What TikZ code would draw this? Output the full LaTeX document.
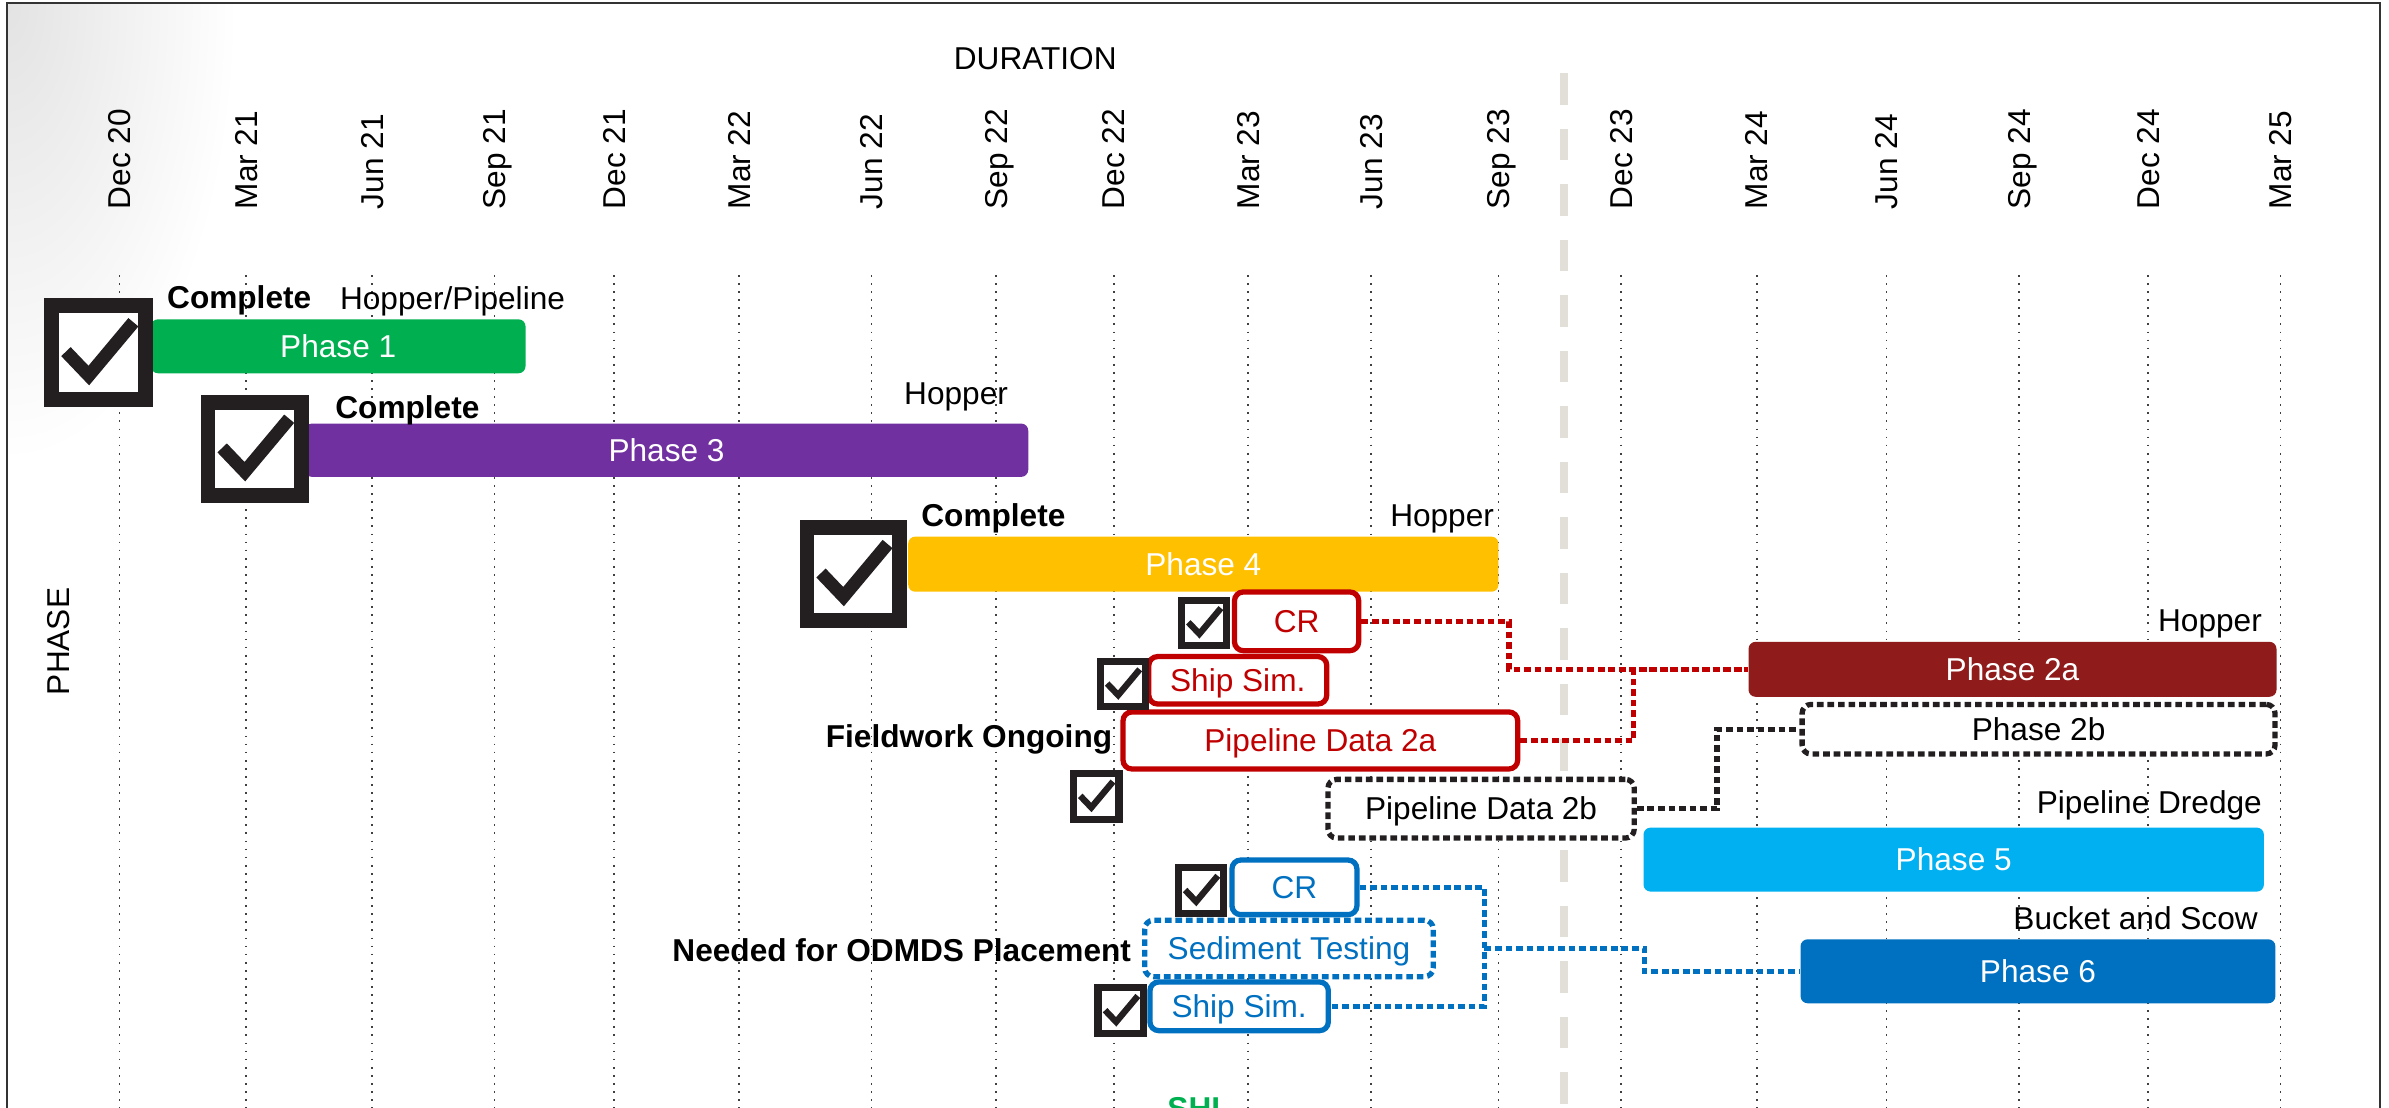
\documentclass[tikz,border=0pt]{standalone}
\usepackage{fontspec}
\setmainfont{Liberation Sans}
\usepackage{tikz}

\definecolor{phgreen}{HTML}{00B050}
\definecolor{phpurple}{HTML}{7030A0}
\definecolor{phyellow}{HTML}{FFC000}
\definecolor{phdarkred}{HTML}{8F1B1B}
\definecolor{phred}{HTML}{C00000}
\definecolor{phcyan}{HTML}{00B0F0}
\definecolor{phblue}{HTML}{0070C0}
\definecolor{chkblack}{HTML}{231F20}
\definecolor{sepgray}{HTML}{E2DFD8}

\def\pxu{0.4335pt}
\tikzset{
        txt/.style={font=\fontsize{9}{10.8}\selectfont, text height=6.4pt, text depth=0pt, inner sep=0pt},
        lbold/.style={txt, font=\fontsize{9}{10.8}\selectfont\bfseries},
        bar/.style 2 args={txt, text=white, rounded corners=2pt, minimum width={#1*\pxu}, minimum height={#2*\pxu}},
        obox/.style 2 args={txt, fill=white, line width=1.5pt, rounded corners=2.5pt, minimum width={#1*\pxu-1.5pt}, minimum height={#2*\pxu-1.5pt}},
        dbox/.style 2 args={obox={#1}{#2}, dash pattern=on 1.9pt off 1.1pt},
        conn/.style={line width=1.5pt, dash pattern=on 1.9pt off 1.1pt},
        griddot/.style={black!75, line width=0.5pt, dash pattern=on 0.5pt off 1.8pt},
        sepline/.style={sepgray, line width=2.1pt, dash pattern=on 9pt off 6.8pt},
        chk/.style={draw=chkblack, fill=white, inner sep=0pt, line width={0.135*#1*\pxu}, minimum size={0.865*#1*\pxu},
            path picture={\draw[chkblack, line width={0.12*#1*\pxu}, line cap=butt, line join=miter]
                ([shift={(-0.30*#1*\pxu,0.01*#1*\pxu)}]path picture bounding box.center) --
                ([shift={(-0.09*#1*\pxu,-0.21*#1*\pxu)}]path picture bounding box.center) --
                ([shift={(0.32*#1*\pxu,0.28*#1*\pxu)}]path picture bounding box.center);}}
    }

\begin{document}
\begin{tikzpicture}[x=0.015236cm,y=-0.015236cm]
\useasboundingbox (0,0) rectangle (1568,727);

% frame
\begin{scope}
\clip (5.5,3) rectangle (300,600);
\shade[inner color=black!11, outer color=white] (-144.5,-297) rectangle (155.5,303);
\end{scope}
\draw[black!80, line width=0.6pt] (4.4,740) -- (4.4,2.2) -- (1562,2.2) -- (1562,740);

% time axis
\foreach \x/\m [count=\i] in {78.5/Dec 20, 161.4/Mar 21, 244/Jun 21, 324.5/Sep 21, 403.2/Dec 21, 485.2/Mar 22,
    572/Jun 22, 653.9/Sep 22, 731/Dec 22, 819/Mar 23, 900/Jun 23, 983.6/Sep 23,
    1064/Dec 23, 1153/Mar 24, 1238.2/Jun 24, 1325/Sep 24, 1409.8/Dec 24, 1496.8/Mar 25}
{
    \draw[griddot] (\x,180.5) -- (\x,727);
    \draw (\x,137.8) node(MON\i)[txt,rotate=90,anchor=west]{\m};
}
\draw[sepline] (1026.5,48) -- (1026.5,727);

\draw (679.5,38) node(DUR)[txt]{DURATION};
\draw (38,421) node(PHS)[txt,rotate=90]{PHASE};

% bars
\draw (222,227.3) node(PH1)[bar={246}{35.4}, fill=phgreen]{Phase 1};
\draw (437.5,295.5) node(PH3)[bar={475}{35}, fill=phpurple]{Phase 3};
\draw (789.8,370.3) node(PH4)[bar={387.6}{36.2}, fill=phyellow]{Phase 4};
\draw (1320.9,439.3) node(PH2A)[bar={346.7}{36.1}, fill=phdarkred]{Phase 2a};
\draw (1338,478.6) node(PH2B)[dbox={314}{36}, draw=chkblack]{Phase 2b};
\draw (1282.3,564.2) node(PH5)[bar={407.4}{42}, fill=phcyan]{Phase 5};
\draw (1337.6,637.5) node(PH6)[bar={311.8}{42}, fill=phblue]{Phase 6};

% data steps
\draw (851,407.8) node(CRR)[obox={85}{42}, draw=phred, text=phred]{CR};
\draw (812.4,446.5) node(SSR)[obox={120.3}{34.6}, draw=phred, text=phred]{Ship Sim.};
\draw (866.6,486) node(PD2A)[obox={262.6}{40.9}, draw=phred, text=phred]{Pipeline Data 2a};
\draw (972.1,530.8) node(PD2B)[dbox={204.6}{42}, draw=chkblack]{Pipeline Data 2b};
\draw (849.6,582.4) node(CRB)[obox={85.5}{39.3}, draw=phblue, text=phblue]{CR};
\draw (846,622.5) node(SEDT)[dbox={193}{40.5}, draw=phblue, text=phblue]{Sediment Testing};
\draw (813.3,660.5) node(SSB)[obox={120.6}{35.4}, draw=phblue, text=phblue]{Ship Sim.};

% links
\draw[conn, phred] (CRR.east) -- ++(97,0) |- (PH2A.west);
\draw[conn, phred] (PD2A.east) -- ++(74.5,0) |- (PH2A.west);
\draw[conn, chkblack] (PD2B.east) -- ++(52.6,0) |- (PH2B.west);
\draw[conn, phblue] (CRB.east) -- ++(82,0) coordinate(BJ) |- (SSB.east);
\draw[conn, phblue] (BJ |- SEDT.east) -- ++(105,0) |- (PH6.west);

% check boxes
\draw (64.7,231.5) node(CK1)[chk=71.4]{};
\draw (167.1,294.7) node(CK3)[chk=71]{};
\draw (560,376.8) node(CK4)[chk=70.5]{};
\draw (790.3,408.8) node(CKCR)[chk=34.5]{};
\draw (737,449) node(CKSR)[chk=34.5]{};
\draw (719.4,522.7) node(CKPD)[chk=34.7]{};
\draw (788.2,584.5) node(CKCB)[chk=34.6]{};
\draw (735.7,663.4) node(CKSB)[chk=34.7]{};

% labels
\draw (157,195) node(CPL1)[lbold]{Complete};
\draw (297,196) node(HP1)[txt]{Hopper/Pipeline};
\draw (267.4,267) node(CPL3)[lbold]{Complete};
\draw (662,258) node(HP3)[txt,anchor=east]{Hopper};
\draw (652,338) node(CPL4)[lbold]{Complete};
\draw (981,338) node(HP4)[txt,anchor=east]{Hopper};
\draw (1485,407) node(HP2A)[txt,anchor=east]{Hopper};
\draw (1485,526.8) node(PLD)[txt,anchor=east]{Pipeline Dredge};
\draw (1482.3,602.7) node(BAS)[txt,anchor=east]{Bucket and Scow};
\draw (730.4,483.5) node(FWO)[lbold,anchor=east]{Fieldwork Ongoing};
\draw (742.8,623.5) node(ODM)[lbold,anchor=east]{Needed for ODMDS Placement};
\draw (787,727.4) node(SHL)[lbold,text=phgreen]{SHL};

\end{tikzpicture}
\end{document}
